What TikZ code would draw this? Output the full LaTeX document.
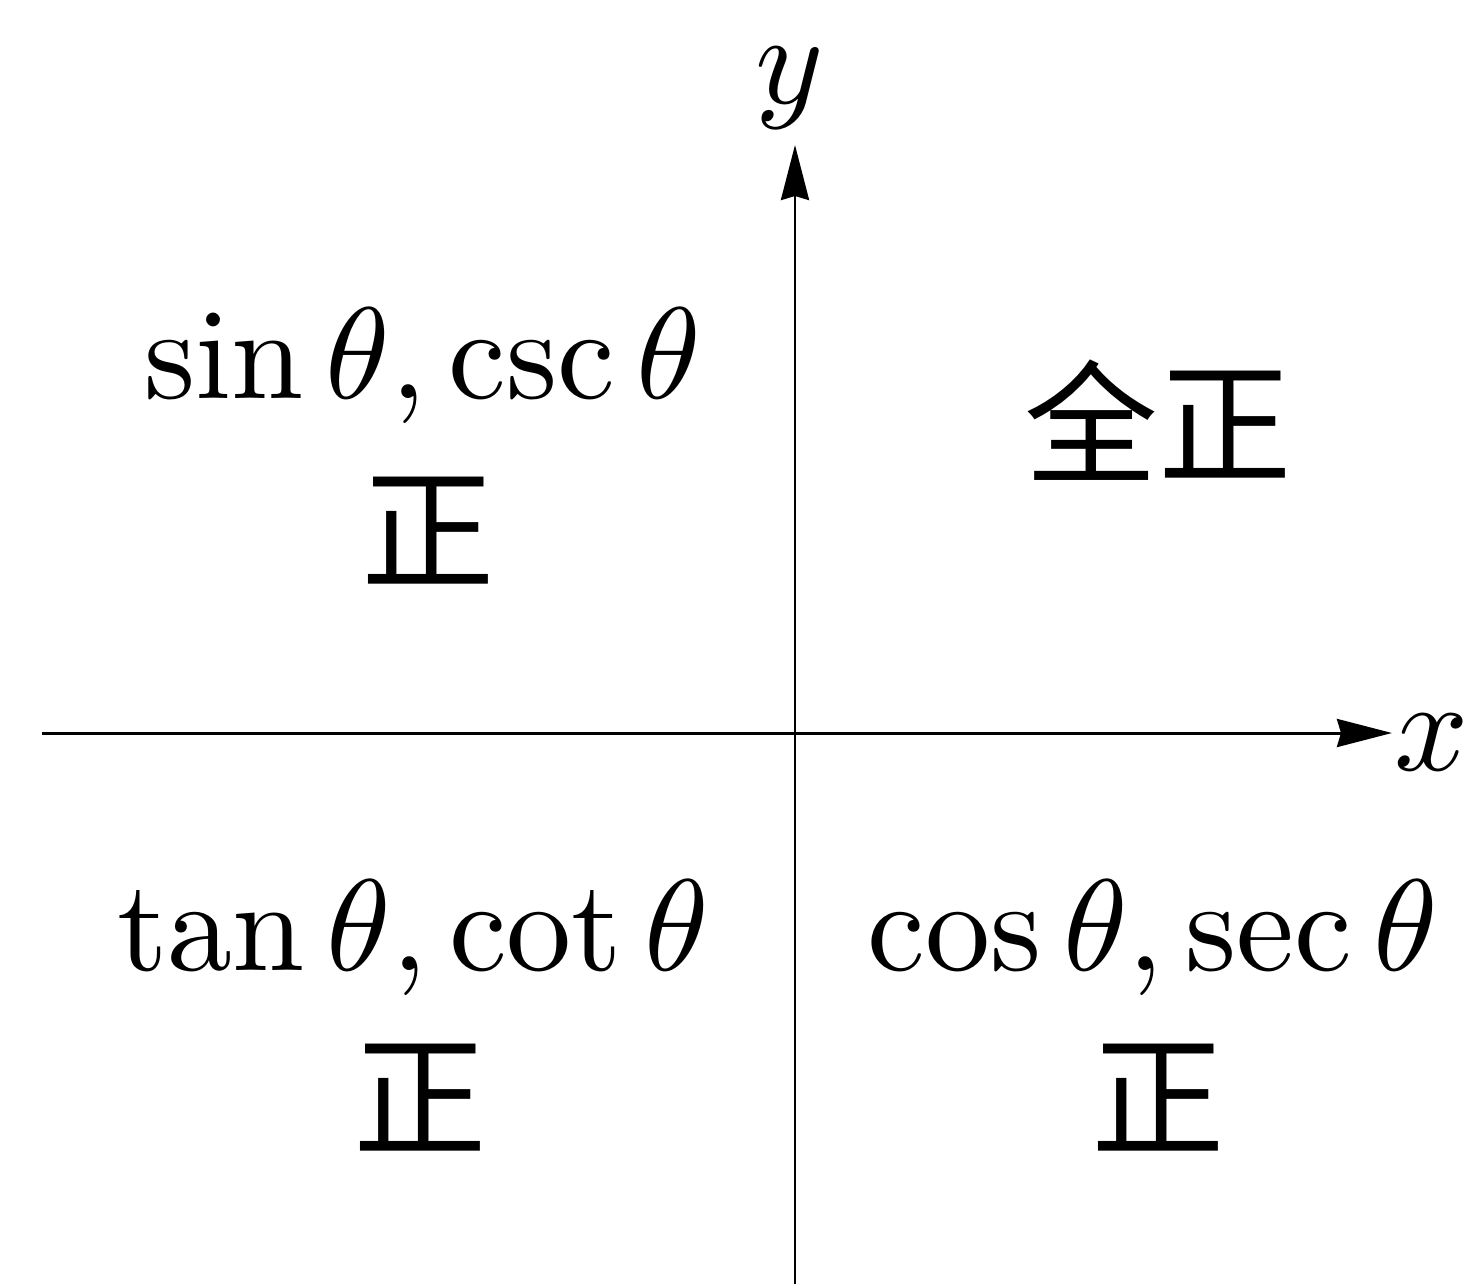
\documentclass[tikz,border=0pt]{standalone}
\usepackage{fontspec}
\newfontfamily\cjk{Noto Sans CJK SC}
\usetikzlibrary{arrows.meta}
\tikzset{
    trig/.style={inner sep=0pt, anchor=base, scale=3.7, transform shape},
    axlabel/.style={inner sep=0pt, scale=3.7, transform shape},
    sign/.style={font=\fontsize{38}{46}\selectfont\cjk, inner sep=0pt},
}
\begin{document}
\begin{tikzpicture}[>={Stealth[length=5.5mm,width=2.8mm,inset=0.4mm]}, line width=0.85pt]
    \useasboundingbox (-7.95,-5.51) rectangle (6.83,7.33);
    \coordinate (xl) at (-7.53,0);
    \coordinate (xr) at (5.97,0);
    \coordinate (yb) at (0,-5.51);
    \coordinate (yt) at (0,5.88);
    \draw[->](xl)--(xr);
    \draw[->](yb)--(yt);
    \node[axlabel](x) at (6.37,-0.10){$x$};
    \node[axlabel](y) at (-0.05,6.45){$y$};
    \node[trig](q2) at (-3.72,3.34){$\sin\theta,\csc\theta$};
    \node[sign](q2s) at (-3.67,2.02){正};
    \node[sign](q1) at (3.63,3.13){全正};
    \node[trig](q3) at (-3.82,-2.37){$\tan\theta,\cot\theta$};
    \node[sign](q3s) at (-3.75,-3.65){正};
    \node[trig](q4) at (3.58,-2.37){$\cos\theta,\sec\theta$};
    \node[sign](q4s) at (3.63,-3.65){正};
\end{tikzpicture}
\end{document}
